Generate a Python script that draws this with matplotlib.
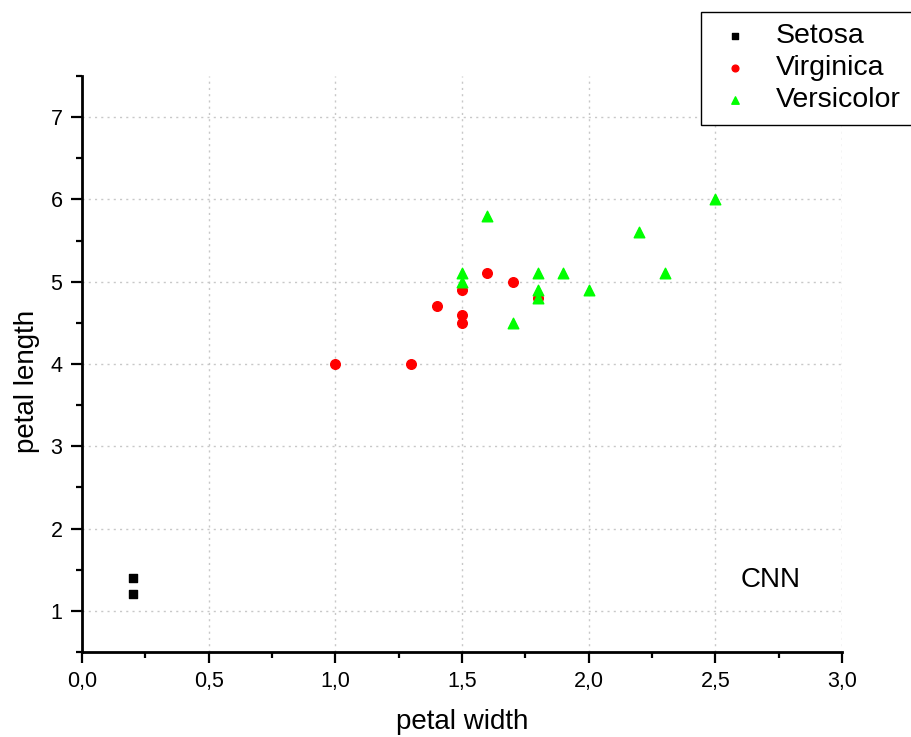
import matplotlib
matplotlib.use('Agg')
import matplotlib.pyplot as plt
from matplotlib.ticker import MultipleLocator, FuncFormatter

plt.rcParams['font.family'] = ['Liberation Sans', 'DejaVu Sans']

# data
setosa_w = [0.2, 0.2]
setosa_l = [1.4, 1.2]

virginica_w = [1.0, 1.3, 1.4, 1.5, 1.5, 1.5, 1.6, 1.7, 1.8]
virginica_l = [4.0, 4.0, 4.7, 4.9, 4.6, 4.5, 5.1, 5.0, 4.8]

versicolor_w = [1.5, 1.5, 1.6, 1.7, 1.8, 1.8, 1.8, 1.9, 2.0, 2.2, 2.3, 2.5]
versicolor_l = [5.1, 5.0, 5.8, 4.5, 5.1, 4.9, 4.8, 5.1, 4.9, 5.6, 5.1, 6.0]

fig = plt.figure(figsize=(9.12, 7.37), dpi=100)
ax = fig.add_axes([0.0899, 0.1153, 0.8333, 0.7816])

ax.scatter(setosa_w, setosa_l, marker='s', s=38, color='black', label='Setosa', zorder=3)
ax.scatter(virginica_w, virginica_l, marker='o', s=48, color='#ff0000', label='Virginica', zorder=3)
ax.scatter(versicolor_w, versicolor_l, marker='^', s=58, color='#00ff00', label='Versicolor', zorder=4)

ax.set_xlim(0, 3.0)
ax.set_ylim(0.5, 7.5)
ax.xaxis.set_major_locator(MultipleLocator(0.5))
ax.xaxis.set_minor_locator(MultipleLocator(0.25))
ax.yaxis.set_major_locator(MultipleLocator(1))
ax.yaxis.set_minor_locator(MultipleLocator(0.5))
ax.xaxis.set_major_formatter(FuncFormatter(lambda v, p: ('%.1f' % v).replace('.', ',')))
ax.yaxis.set_major_formatter(FuncFormatter(lambda v, p: '%d' % v))

ax.grid(True, which='major', linestyle=(0, (1.5, 3)), color='#c8c8c8', linewidth=1)
ax.set_axisbelow(True)

for s in ['top', 'right']:
    ax.spines[s].set_visible(False)
for s in ['left', 'bottom']:
    ax.spines[s].set_linewidth(2)

ax.tick_params(which='major', direction='out', length=8, width=1.6, labelsize=15.5, pad=6)
ax.tick_params(which='minor', direction='out', length=4.5, width=1.6)

ax.set_xlabel('petal width', fontsize=20, labelpad=12)
ax.set_ylabel('petal length', fontsize=20)
ax.yaxis.set_label_coords(-0.055, 0.469)

ax.text(2.6, 1.38, 'CNN', fontsize=20, ha='left', va='center')

leg = fig.legend(loc='upper right', bbox_to_anchor=(1.0, 0.984), fontsize=20.5,
                 frameon=True, fancybox=False, edgecolor='black', framealpha=1,
                 handletextpad=0.63, borderpad=0.4, labelspacing=0.21, markerscale=0.7,
                 handlelength=1.6, borderaxespad=0)
leg.get_frame().set_linewidth(1)

plt.savefig('out.png', dpi=100)
